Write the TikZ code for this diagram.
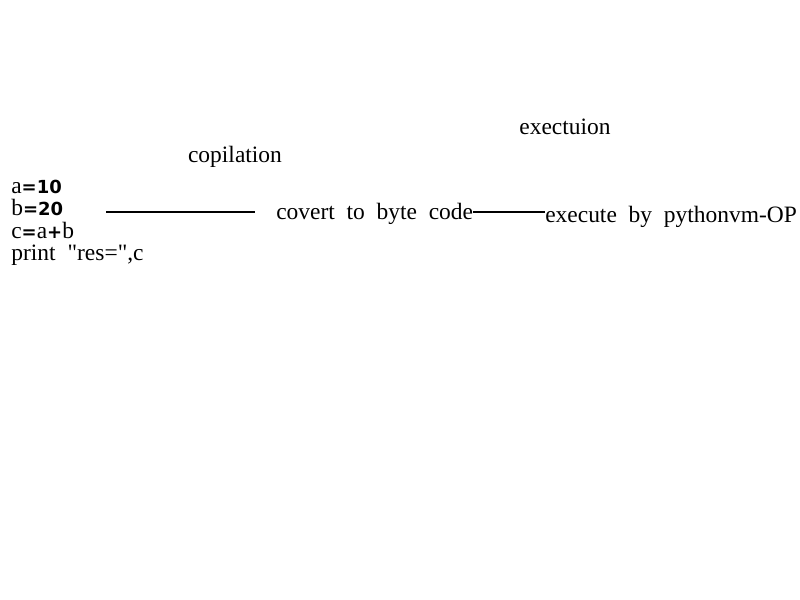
\documentclass[tikz,border=0pt]{standalone}
\usepackage{fontspec}
\setmainfont{Liberation Serif}
\newfontfamily\digfont{DejaVu Sans}
\usetikzlibrary{positioning}

\newcommand{\dg}[1]{{\digfont\bfseries\fontsize{13.5}{16.7}\selectfont #1}}

\tikzset{
  lbl/.style={inner sep=0pt, font=\fontsize{17.6}{16.7}\selectfont},
  conn/.style={line width=0.9pt}
}

\begin{document}
\begin{tikzpicture}[x=0.75pt, y=-0.75pt]
  \useasboundingbox (0,0) rectangle (800,600);

  % source lines
  \node[lbl, anchor=north west, align=left] (src) at (11,180)
    {a\dg{=10}\\b\dg{=20}\\c\dg{=}a\dg{+}b\\print\hspace{9pt}\textquotedbl res=\textquotedbl,c};

  \node[lbl, anchor=west] (covert) at (276,214) {covert ~to ~byte ~code};
  \node[lbl, anchor=west] (exec) at (545,217) {execute ~by ~pythonvm-OP};

  \node[lbl] (copil) at (235,157) {copilation};
  \node[lbl] (execn) at (565,127) {exectuion};

  % connectors
  \coordinate (l1s) at (106,212);
  \coordinate (l1e) at (255,212);
  \draw[conn] (l1s) -- (l1e);
  \draw[conn] (covert.east |- l1e) -- (exec.west |- l1e);
\end{tikzpicture}
\end{document}
